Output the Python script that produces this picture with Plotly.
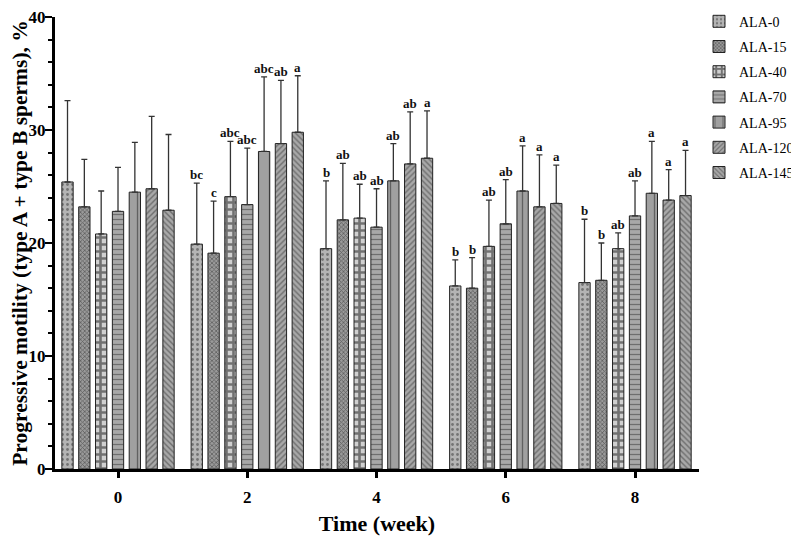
import plotly.graph_objects as go

weeks = [0, 2, 4, 6, 8]
series_names = ["ALA-0", "ALA-15", "ALA-40", "ALA-70", "ALA-95", "ALA-120", "ALA-145"]

ala0 = [25.4, 19.9, 19.5, 16.2, 16.5]
ala15 = [23.2, 19.1, 22.05, 16.0, 16.7]
ala40 = [20.8, 24.1, 22.2, 19.7, 19.5]
ala70 = [22.8, 23.4, 21.4, 21.7, 22.4]
ala95 = [24.5, 28.1, 25.5, 24.6, 24.4]
ala120 = [24.8, 28.8, 27.0, 23.2, 23.8]
ala145 = [22.9, 29.8, 27.5, 23.5, 24.2]

sd0 = [7.2, 5.4, 6.0, 2.3, 5.6]
sd15 = [4.2, 4.6, 5.0, 2.7, 3.3]
sd40 = [3.8, 4.9, 3.0, 4.1, 1.4]
sd70 = [3.9, 5.0, 3.4, 3.9, 3.1]
sd95 = [4.4, 6.6, 3.3, 4.0, 4.6]
sd120 = [6.4, 5.6, 4.6, 4.6, 2.7]
sd145 = [6.7, 5.0, 4.2, 3.4, 4.0]

lt0 = ["", "bc", "b", "b", "b"]
lt15 = ["", "c", "ab", "b", "b"]
lt40 = ["", "abc", "ab", "ab", "ab"]
lt70 = ["", "abc", "ab", "ab", "ab"]
lt95 = ["", "abc", "ab", "a", "a"]
lt120 = ["", "ab", "ab", "a", "a"]
lt145 = ["", "a", "a", "a", "a"]

means = [ala0, ala15, ala40, ala70, ala95, ala120, ala145]
sds = [sd0, sd15, sd40, sd70, sd95, sd120, sd145]
letters = [lt0, lt15, lt40, lt70, lt95, lt120, lt145]

patterns = [
    dict(shape=".", fgcolor="#333333", bgcolor="#b4b4b4", size=5, solidity=0.25),
    dict(shape="x", fgcolor="#222222", bgcolor="#9a9a9a", size=3, solidity=0.45),
    dict(shape="+", fgcolor="#111111", bgcolor="#d0d0d0", size=7, solidity=0.6),
    dict(shape="-", fgcolor="#333333", bgcolor="#a8a8a8", size=5, solidity=0.25),
    dict(shape="|", fgcolor="#222222", bgcolor="#a0a0a0", size=11, solidity=0.12),
    dict(shape="/", fgcolor="#333333", bgcolor="#a8a8a8", size=4, solidity=0.35),
    dict(shape="\\", fgcolor="#333333", bgcolor="#a8a8a8", size=4, solidity=0.35),
]

pitch = 0.2605
bw = 0.175
FONT = "Liberation Serif"

fig = go.Figure()
annotations = []
for i, name in enumerate(series_names):
    off = (i - 3) * pitch
    fig.add_trace(go.Bar(
        x=weeks, y=means[i], name=name,
        offset=off - bw / 2, width=bw,
        marker=dict(pattern=patterns[i], line=dict(color="#222222", width=1)),
        error_y=dict(type="data", array=sds[i], arrayminus=[0] * len(weeks),
                     symmetric=False, color="#333333", thickness=1.3, width=3),
        legendgroup=name,
    ))
    for j, w in enumerate(weeks):
        if letters[i][j]:
            annotations.append(dict(
                x=w + off, y=means[i][j] + sds[i][j], xref="x", yref="y",
                text="<b>" + letters[i][j] + "</b>", showarrow=False,
                yanchor="bottom", yshift=-1,
                font=dict(family=FONT, size=13, color="#111111")))

fig.update_layout(
    width=791, height=531,
    margin=dict(l=47, r=100, t=9, b=70, autoexpand=False),
    paper_bgcolor="white", plot_bgcolor="white",
    barmode="overlay",
    font=dict(family=FONT, color="black"),
    annotations=annotations,
    showlegend=True,
    legend=dict(x=1.0, xanchor="left", y=1.025, yanchor="top",
                font=dict(family=FONT, size=14, color="black"),
                tracegroupgap=4, bgcolor="rgba(0,0,0,0)"),
    xaxis=dict(
        range=[-0.975, 8.99], tickvals=weeks, ticktext=[str(w) for w in weeks],
        showline=True, linewidth=3, linecolor="black", automargin=False,
        ticks="outside", ticklen=6, tickwidth=2.5, tickcolor="black",
        ticklabelstandoff=5, ticklabeloverflow="allow",
        tickfont=dict(family=FONT, size=17, color="black", weight="bold"),
        showgrid=False, zeroline=False,
        title=dict(text="<b>Time (week)</b>", standoff=10,
                   font=dict(family=FONT, size=22, color="black")),
    ),
    yaxis=dict(
        range=[0, 40], tickvals=[0, 10, 20, 30, 40], automargin=False,
        showline=True, linewidth=3, linecolor="black",
        ticks="outside", ticklen=7, tickwidth=2, tickcolor="black",
        ticklabelstandoff=-4, ticklabeloverflow="allow",
        minor=dict(dtick=2, ticks="outside", ticklen=4, tickwidth=1.5, tickcolor="black"),
        tickfont=dict(family=FONT, size=17, color="black", weight="bold"),
        showgrid=False, zeroline=False,
        title=dict(text="<b>Progressive motility (type A + type B sperms), %</b>", standoff=4,
                   font=dict(family=FONT, size=21.5, color="black")),
    ),
)

fig.write_html("out.html")
